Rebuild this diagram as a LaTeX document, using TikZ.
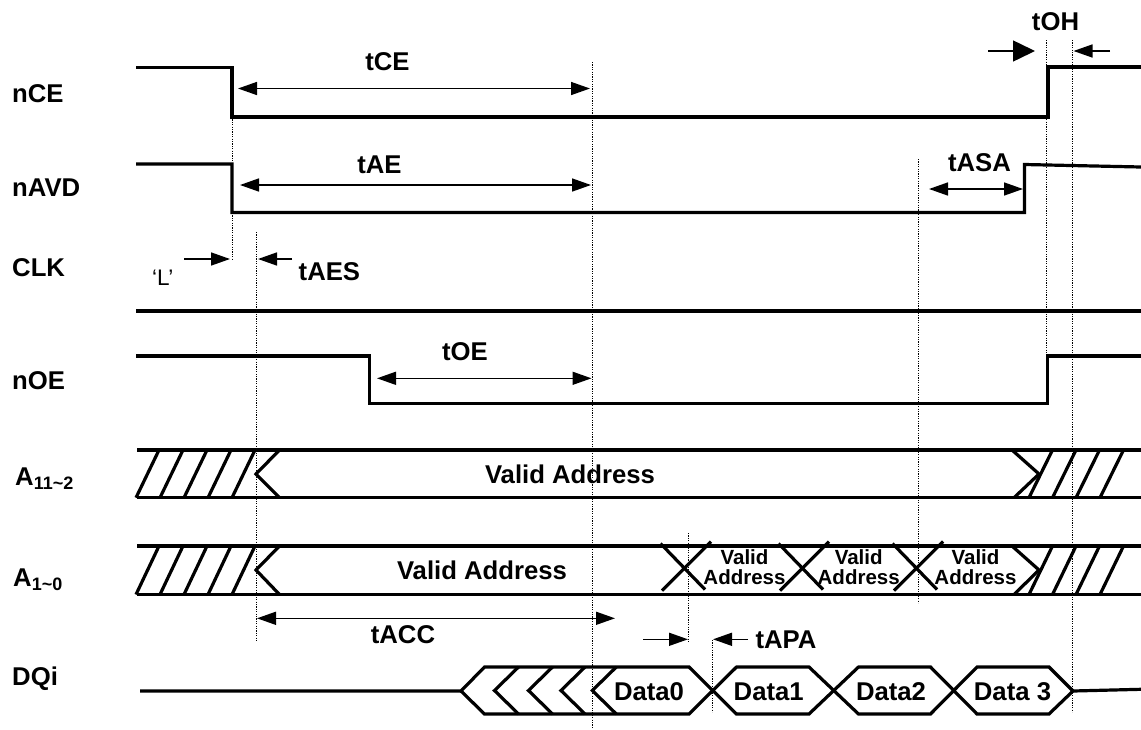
\documentclass[tikz,border=0pt]{standalone}
\usepackage{fontspec}
\setmainfont{Liberation Sans}
\usetikzlibrary{arrows.meta}
\begin{document}
\begin{tikzpicture}[x=1pt,y=-1pt,
  sig/.style={line width=3.2pt, line join=miter},
  dim/.style={line width=1.5pt},
  dots/.style={line width=1pt, dash pattern=on 1.2pt off 1.2pt},
  lbl/.style={font=\fontsize{25.7}{30}\selectfont\bfseries, inner sep=0pt, anchor=base},
  small/.style={font=\fontsize{20.5}{19.5}\selectfont\bfseries, inner sep=0pt, align=center, anchor=center},
  >={Triangle[length=19pt,width=13pt]}]
\useasboundingbox (0,0) rectangle (1141,729);

% dotted reference lines
\draw[dots] (232,117)--(232,259);
\draw[dots] (256,232)--(256,642);
\draw[dots] (592,62)--(592,728);
\draw[dots] (918,159)--(918,603);
\draw[dots] (1046,40)--(1046,377);
\draw[dots] (1072,40)--(1072,712);
\draw[dots] (688,533)--(688,642);
\draw[dots] (712.5,640)--(712.5,712);

% signal labels
\node[lbl, anchor=base west] (lnce) at (12,102) {nCE};
\node[lbl, anchor=base west] (lnavd) at (12,196.7) {nAVD};
\node[lbl, anchor=base west] (lclk) at (12,276.7) {CLK};
\node[lbl, anchor=base west] (lnoe) at (12,389) {nOE};
\node[lbl, anchor=base west] (la112) at (15,485) {A\raisebox{-4pt}{\fontsize{18}{18}\selectfont 11\textasciitilde2}};
\node[lbl, anchor=base west] (la10) at (13,586.7) {A\raisebox{-4pt}{\fontsize{18}{18}\selectfont 1\textasciitilde0}};
\node[lbl, anchor=base west] (ldq) at (12,685) {DQi};

% nCE
\draw[sig] (136,67.5) -| (232,117) -| (1048,67) -- (1141,67);
% nAVD
\draw[sig] (136,164) -| (232,212.5) -| (1024.5,164.5) -- (1141,167);
% CLK
\draw[sig] (136,311) -- (1141,311);
% nOE
\draw[sig] (136,356) -| (369.5,403.5) -| (1047.5,356) -- (1141,356);

% A11~2 bus
\draw[sig] (137,450) -- (1141,450);
\draw[sig] (137,497.7) -- (1141,497.7);
\foreach \b in {136,160,184,208,232} \draw[sig] (\b,497.7) -- (\b+23,450);
\draw[sig] (279.5,450) -- (256,474) -- (279.5,497.7);
\draw[sig] (1012,450) -- (1039,474) -- (1014,497.7);
\foreach \b in {1029,1052.5,1076,1100} \draw[sig] (\b,497.7) -- (\b+23.5,450);

% A1~0 bus
\draw[sig] (137,546) -- (1141,546);
\draw[sig] (137,594.5) -- (1141,594.5);
\foreach \b in {136,160,184,208,232} \draw[sig] (\b,594.5) -- (\b+23,546);
\draw[sig] (279.5,546) -- (256,570) -- (279.5,594.5);
\draw[sig] (1012,546) -- (1039,570) -- (1014,594.5);
\foreach \b in {1029,1052.5,1076,1100} \draw[sig] (\b,594.5) -- (\b+23.5,546);
\foreach \c in {684,802,916} {
  \draw[sig] (\c-23.5,543.5) -- (\c+21,589.5);
  \draw[sig] (\c-22,590.5) -- (\c+27,541.5);
}

% DQi
\draw[sig] (140,691) -- (461,691) -- (484.5,667) -- (689,667) -- (736.5,714) -- (809,714)
  -- (858.5,667) -- (930.5,667) -- (977,714) -- (1049,714) -- (1073,691) -- (1141,689.3);
\draw[sig] (461,691) -- (484.5,714) -- (689,714) -- (736.5,667) -- (809,667)
  -- (858.5,714) -- (930.5,714) -- (977,667) -- (1049,667) -- (1073,691);
\foreach \p in {494.5,528.5,561,592.3} \draw[sig] (\p+24,667) -- (\p,690.5) -- (\p+24,714);

% timing arrows
\draw[dim,<->] (238,88.5) -- (590,88.5);
\draw[dim,<->] (240,185) -- (591,185);
\draw[dim,<->] (929,189) -- (1023,189);
\draw[dim,<->] (377,378.3) -- (591.5,378.3);
\draw[dim,<->] (257,618.3) -- (615,618.3);
\draw[dim,->] (184,259) -- (230,259);
\draw[dim,->] (292,259) -- (258,259);
\draw[dim,-{Triangle[length=22pt,width=21pt]}] (988,51) -- (1035,51);
\draw[dim,->] (1110,51) -- (1073.5,51);
\draw[dim,->] (643,639.3) -- (688,639.3);
\draw[dim,->] (748,639.3) -- (713,639.3);

% timing labels
\node[lbl] (ttce) at (387.5,70.5) {tCE};
\node[lbl] (ttae) at (379.5,173.4) {tAE};
\node[lbl, anchor=base west] (ttaes) at (298.5,280) {tAES};
\node[font=\fontsize{22.5}{26}\selectfont, inner sep=0pt, anchor=base west] (tl) at (152,285) {‘L’};
\node[lbl] (ttoe) at (465,360) {tOE};
\node[lbl] (ttasa) at (979.4,171) {tASA};
\node[lbl] (ttoh) at (1055.5,30) {tOH};
\node[lbl] (ttacc) at (403,643) {tACC};
\node[lbl, anchor=base west] (ttapa) at (755.3,648) {tAPA};

% bus contents
\node[lbl] (va1) at (570,483) {Valid Address};
\node[lbl] (va2) at (482,579) {Valid Address};
\node[small] (sv1) at (744.5,567) {Valid\\Address};
\node[small] (sv2) at (858.7,567) {Valid\\Address};
\node[small] (sv3) at (975.5,567) {Valid\\Address};
\node[lbl] (d0) at (649,700.7) {Data0};
\node[lbl] (d1) at (768.7,700.7) {Data1};
\node[lbl] (d2) at (891,700.7) {Data2};
\node[lbl] (d3) at (1012.5,700.7) {Data 3};
\end{tikzpicture}
\end{document}
